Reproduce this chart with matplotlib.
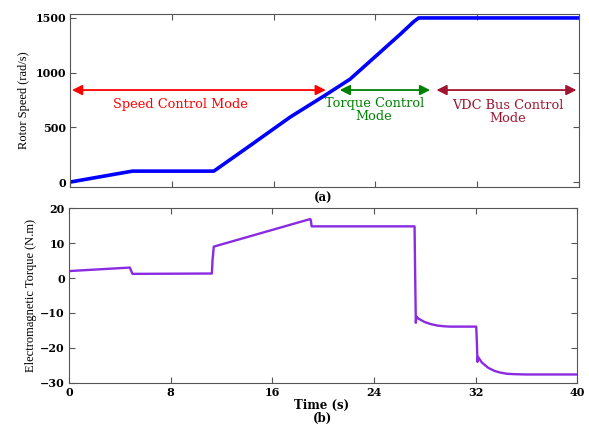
import matplotlib.pyplot as plt

plt.rcParams['font.family'] = ['DejaVu Serif']

# rotor speed (rad/s) vs time (s)
speed_t = [0, 4.9, 11.3, 14.0, 17.3, 20.0, 22.0, 24.0, 26.0, 27.0, 27.4, 40]
speed_w = [0, 100, 100, 321, 594, 790, 940, 1148, 1356, 1465, 1500, 1500]

# electromagnetic torque (N.m) vs time (s)
torque_t = [0, 4.8, 4.85, 5.0, 11.25, 11.3, 11.4, 19.0, 19.05, 19.1,
            24.0, 27.2, 27.25, 27.3, 27.35, 27.5, 28.0, 28.5, 29.0, 29.5, 30.0,
            32.05, 32.1, 32.15, 32.2, 32.5, 33.0, 33.5, 34.0, 34.5, 35.0, 36.0, 40]
torque_v = [2.0, 3.0, 2.5, 1.2, 1.3, 5.0, 9.0, 16.9, 16.2, 14.8,
            14.8, 14.8, 0.0, -12.8, -11.0, -11.6, -12.6, -13.2, -13.6, -13.8, -13.9,
            -13.9, -18.0, -24.0, -22.6, -24.2, -25.7, -26.6, -27.1, -27.4, -27.5, -27.6, -27.6]

modes = ['Speed Control Mode', 'Torque Control\nMode', 'VDC Bus Control\nMode']
mode_start = [0.15, 21.2, 28.8]
mode_end = [20.1, 28.3, 39.8]
mode_colors = ['#ff0000', '#008000', '#a01530']
mode_text_x = [8.7, 23.9, 34.4]
mode_text_y = [713, 658, 636]

fig = plt.figure(figsize=(5.89, 4.24), dpi=100)
ax1 = fig.add_axes([0.119, 0.559, 0.864, 0.409])
ax2 = fig.add_axes([0.117, 0.097, 0.863, 0.412])

ax1.plot(speed_t, speed_w, color='#0000ff', linewidth=2.6)
for s, e, c in zip(mode_start, mode_end, mode_colors):
    ax1.annotate('', xy=(s, 841), xytext=(e, 841),
                 arrowprops=dict(arrowstyle='<|-|>', color=c, lw=1.3,
                                 mutation_scale=15, shrinkA=0, shrinkB=0))
for txt, x, y, c in zip(modes, mode_text_x, mode_text_y, mode_colors):
    ax1.text(x, y, txt, color=c, ha='center', va='center', fontsize=9.3,
             linespacing=1.0)
ax1.set_xlim(0, 40)
ax1.set_ylim(-45, 1540)
ax1.set_yticks([0, 500, 1000, 1500])
ax1.set_xticks([0, 8, 16, 24, 32, 40])
ax1.tick_params(labelbottom=False)
ax1.set_ylabel('Rotor Speed (rad/s)', fontsize=9, family='Liberation Serif',
               labelpad=4)

ax2.plot(torque_t, torque_v, color='#8a2be2', linewidth=1.7)
ax2.set_xlim(0, 40)
ax2.set_ylim(-30, 20)
ax2.set_xticks([0, 8, 16, 24, 32, 40])
ax2.set_yticks([-30, -20, -10, 0, 10, 20])
ax2.set_ylabel('Electromagnetic Torque (N.m)', fontsize=9, family='Liberation Serif',
               labelpad=2)

fig.text(323 / 589, 1 - 198 / 424, '(a)', ha='center', va='center', fontsize=8.5,
         fontweight='bold')
fig.text(322 / 589, 1 - 405 / 424, 'Time (s)', ha='center', va='center', fontsize=8.5,
         fontweight='bold')
fig.text(322 / 589, 1 - 418 / 424, '(b)', ha='center', va='center', fontsize=8.5,
         fontweight='bold')

for ax in (ax1, ax2):
    ax.tick_params(direction='in', top=True, right=True, length=4, labelsize=8,
                   color='#555555', pad=3)
    for lab in ax.get_xticklabels() + ax.get_yticklabels():
        lab.set_fontweight('bold')
    for sp in ax.spines.values():
        sp.set_color('#555555')

fig.savefig('out.png', dpi=100)
